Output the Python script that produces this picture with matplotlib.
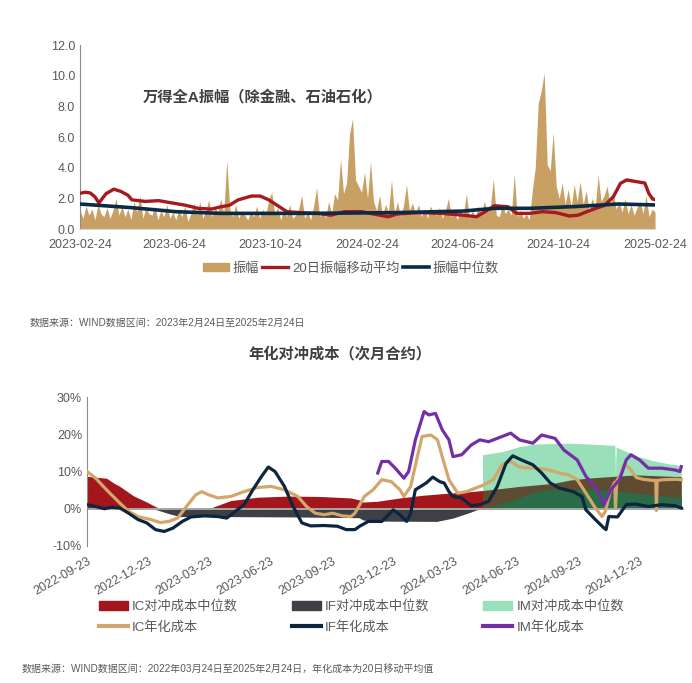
import pandas as pd
import matplotlib
matplotlib.use('Agg')
import matplotlib.pyplot as plt
from matplotlib.patches import Patch
from matplotlib.lines import Line2D
from matplotlib.ticker import FuncFormatter

plt.rcParams['font.family'] = ['Liberation Sans', 'Noto Sans CJK SC']

# ---------------- top chart data ----------------
amp_start = '2023-02-24'
amp_end = '2025-02-24'
amplitude = [
    1.2, 0.7, 1.5, 0.9, 1.3, 0.6, 1.6, 1.0,
    0.8, 1.4, 0.7, 1.2, 2.0, 0.9, 1.5, 0.8,
    1.3, 0.6, 1.8, 1.1, 2.2, 0.7, 1.4, 1.0,
    0.9, 1.5, 0.6, 1.2, 0.8, 1.6, 0.7, 1.1,
    0.6, 1.3, 0.8, 1.5, 0.5, 1.0, 1.7, 0.9,
    1.8, 0.7, 1.2, 1.9, 0.8, 1.4, 1.1, 2.0,
    1.0, 4.5, 1.3, 0.8, 1.6, 0.7, 1.2, 0.9,
    0.6, 1.1, 0.8, 1.5, 0.7, 1.3, 0.9, 1.9,
    2.4, 1.0, 1.4, 0.6, 1.2, 0.8, 1.6, 0.7,
    0.9, 1.3, 2.2, 0.7, 1.1, 0.6, 1.5, 2.7,
    0.8, 1.2, 0.7, 1.8, 1.0, 2.3, 1.9, 4.6,
    2.3, 3.0, 6.2, 7.2, 3.2, 2.8, 2.4, 3.7,
    2.0, 4.4, 1.8, 1.2, 2.2, 0.9, 1.6, 1.1,
    3.2, 1.0, 1.8, 0.8, 1.5, 2.9, 1.2, 1.7,
    1.0, 1.6, 0.8, 1.3, 0.7, 1.5, 1.1, 0.9,
    1.4, 0.7, 1.2, 2.0, 0.8, 1.1, 0.6, 1.3,
    0.9, 2.3, 0.7, 1.2, 0.8, 1.5, 1.0, 1.8,
    1.1, 1.4, 3.3, 0.9, 0.8, 1.6, 1.0, 1.3,
    0.9, 3.6, 0.8, 1.2, 0.7, 1.0, 0.6, 2.5,
    4.0, 8.2, 9.0, 10.2, 4.2, 3.8, 6.3, 2.8,
    2.0, 3.0, 1.6, 2.6, 1.4, 2.9, 1.8, 3.1,
    1.6, 2.5, 1.2, 2.0, 1.4, 3.5, 1.8, 2.2,
    2.8, 1.5, 2.4, 1.3, 1.8, 1.1, 2.0, 1.0,
    1.6, 0.9, 1.4, 1.8, 1.0, 2.2, 0.8, 1.3,
    1.1,
]

# 20日振幅移动平均 (days after 2023-02-24)
ma_days = [0, 7, 13, 19, 24, 33, 43, 52, 61, 66, 83, 100, 117, 134, 150, 167,
           179, 190, 201, 218, 229, 240, 252, 263, 280, 302, 319, 336, 358, 381,
           392, 403, 431, 459, 487, 504, 515, 527, 544, 555, 572, 588, 605, 622,
           633, 650, 667, 678, 687, 695, 706, 718, 723, 728, 730]
ma_vals = [2.33, 2.4, 2.35, 2.1, 1.7, 2.3, 2.6, 2.45, 2.2, 1.9, 1.8, 1.85, 1.7,
           1.55, 1.35, 1.3, 1.45, 1.55, 1.9, 2.15, 2.15, 1.9, 1.5, 1.13, 1.07,
           1.02, 0.9, 1.13, 1.13, 0.9, 0.8, 0.98, 1.07, 1.02, 0.9, 0.8, 1.13,
           1.52, 1.45, 1.02, 1.02, 1.13, 1.07, 0.85, 0.9, 1.24, 1.55, 2.1, 2.98,
           3.2, 3.1, 3.0, 2.33, 1.95, 1.93]

# 振幅中位数
med_days = [0, 66, 122, 179, 291, 403, 487, 527, 572, 628, 684, 730]
med_vals = [1.63, 1.39, 1.13, 1.02, 1.02, 1.07, 1.17, 1.35, 1.35, 1.46, 1.63, 1.57]

top_ticks = ['2023-02-24', '2023-06-24', '2023-10-24', '2024-02-24',
             '2024-06-24', '2024-10-24', '2025-02-24']

# ---------------- bottom chart data (days after 2022-09-23, %) ----------------
cost_start = '2022-09-23'

ic_med_days = [0, 29, 39, 49, 69, 89, 104, 109, 181, 214, 254, 300, 347, 393, 405,
               411, 432, 466, 499, 532, 565, 589, 620, 644, 669, 694, 719, 744,
               768, 793, 818, 885]
ic_med = [8.7, 8.2, 7.0, 6.0, 3.5, 1.8, 0.4, 0.0, 0.0, 2.2, 3.1, 3.4, 3.3, 2.9,
          2.4, 1.8, 2.0, 2.9, 3.6, 4.1, 4.5, 4.9, 5.5, 6.0, 6.4, 6.8, 7.7, 8.2,
          8.5, 8.8, 9.1, 8.6]

if_med_days = [0, 95, 104, 120, 138, 200, 307, 405, 411, 421, 521, 545, 570, 580,
               589, 619, 644, 670, 704, 749, 786, 823, 885]
if_med = [0.0, 0.0, -0.3, -1.2, -2.1, -2.1, -2.2, -2.4, -3.0, -3.3, -3.4, -2.5,
          -1.0, -0.3, 0.0, 1.5, 3.0, 4.8, 5.3, 5.2, 4.8, 4.0, 3.0]

im_med_days = [589, 620, 644, 669, 719, 768, 786, 787, 788, 818, 843, 868, 885]
im_med = [14.5, 15.4, 16.7, 17.4, 17.6, 17.2, 17.0, 9.0, 16.6, 14.2, 12.9, 12.0, 11.6]

ic_cost_days = [0, 13, 29, 49, 62, 76, 95, 109, 122, 135, 148, 162, 171, 181, 195,
                214, 234, 254, 274, 294, 314, 327, 340, 353, 366, 380, 393, 399,
                413, 426, 439, 453, 466, 472, 482, 492, 499, 512, 522, 529, 539,
                552, 565, 578, 591, 605, 618, 631, 644, 664, 684, 704, 717, 730,
                743, 757, 767, 772, 779, 786, 787, 789, 796, 800, 808, 818, 828,
                843, 847, 848, 849, 858, 877, 885]
ic_cost = [10.0, 8.2, 5.1, 1.5, -0.7, -2.1, -2.9, -3.7, -3.4, -2.5, 0.6, 3.75,
           4.6, 3.75, 2.9, 3.3, 4.6, 5.7, 6.0, 5.1, 3.3, 0.6, -1.2, -1.6, -1.2,
           -1.9, -2.1, -1.2, 3.3, 5.1, 7.8, 7.3, 5.1, 3.3, 6.0, 14.0, 19.4, 19.8,
           18.5, 14.0, 7.8, 4.2, 4.6, 5.5, 6.4, 7.8, 11.8, 12.7, 11.2, 10.9,
           10.6, 9.6, 9.1, 7.8, 4.2, 0.2, -2.1, -0.7, 4.6, 7.1, 0.3, 7.5, 9.6,
           11.8, 10.9, 8.4, 7.9, 7.6, 7.6, -0.5, 7.6, 7.8, 7.9, 7.8]

if_cost_days = [0, 13, 26, 36, 49, 62, 76, 89, 102, 115, 128, 142, 155, 175, 195,
                208, 221, 234, 247, 260, 270, 280, 294, 307, 320, 333, 353, 373,
                386, 399, 406, 419, 439, 449, 456, 466, 476, 482, 489, 505, 515,
                525, 532, 539, 545, 558, 572, 585, 598, 611, 624, 634, 647, 664,
                677, 690, 704, 724, 737, 743, 757, 770, 773, 777, 790, 796, 803,
                816, 836, 856, 876, 885]
if_cost = [1.1, 0.6, 0.0, 0.4, 0.2, -1.2, -2.9, -3.8, -5.6, -6.1, -5.2, -3.4,
           -2.2, -1.9, -2.1, -2.5, -0.7, 1.1, 5.1, 8.7, 11.2, 10.0, 6.0, 0.6,
           -3.8, -4.6, -4.5, -4.7, -5.6, -5.6, -4.7, -3.4, -3.4, -1.6, -0.3,
           -1.6, -3.4, -1.2, 5.1, 6.9, 8.5, 7.3, 6.9, 4.6, 3.3, 2.9, 0.8, 1.1,
           2.0, 6.0, 12.2, 14.2, 13.1, 11.8, 9.6, 6.9, 5.5, 4.6, 3.3, -0.3, -2.9,
           -5.2, -5.6, -2.1, -2.2, -0.7, 1.1, 1.3, 0.6, 1.1, 0.8, 0.2]

im_cost_days = [433, 439, 449, 459, 472, 479, 489, 502, 509, 519, 529, 539, 545,
                558, 572, 585, 598, 611, 631, 644, 664, 677, 697, 710, 730, 743,
                760, 770, 780, 793, 803, 810, 823, 836, 856, 876, 883, 885]
im_cost = [9.6, 12.7, 12.7, 10.9, 8.2, 10.0, 18.5, 26.1, 25.2, 25.6, 21.2, 18.5,
           14.0, 14.5, 17.1, 18.5, 18.0, 18.9, 20.3, 18.5, 17.6, 19.8, 18.9, 15.8,
           13.1, 8.7, 5.1, 1.1, 5.1, 7.8, 13.1, 14.5, 13.1, 10.9, 10.9, 10.4,
           10.0, 11.3]

bottom_ticks = ['2022-09-23', '2022-12-23', '2023-03-23', '2023-06-23', '2023-09-23',
                '2023-12-23', '2024-03-23', '2024-06-23', '2024-09-23', '2024-12-23']
im_start_day = 589


def to_dates(start, days):
    return pd.Timestamp(start) + pd.to_timedelta(days, unit='D')


grey_txt = '#595959'
fig = plt.figure(figsize=(6.92, 6.83), dpi=100)

# ================= top chart =================
ax1 = fig.add_axes([0.1156, 0.6647, 0.831, 0.2694])
amp_dates = pd.date_range(amp_start, amp_end, periods=len(amplitude))
ax1.fill_between(amp_dates, 0, amplitude, color='#C9A064', lw=0, zorder=1)
ax1.plot(to_dates(amp_start, ma_days), ma_vals, color='#A6191E', lw=2.4, zorder=3)
ax1.plot(to_dates(amp_start, med_days), med_vals, color='#0B2A45', lw=2.6, zorder=4)
ax1.set_xlim(pd.Timestamp(amp_start), pd.Timestamp(amp_end))
ax1.set_ylim(0, 12)
ax1.set_yticks(range(0, 13, 2))
ax1.yaxis.set_major_formatter(FuncFormatter(lambda v, p: '%.1f' % v))
ax1.set_xticks(pd.to_datetime(top_ticks))
ax1.set_xticklabels(top_ticks)
for s in ['top', 'right']:
    ax1.spines[s].set_visible(False)
ax1.spines['left'].set_color('#8C8C8C')
ax1.spines['bottom'].set_color('#D9D9D9')
ax1.tick_params(length=0, labelsize=9, labelcolor=grey_txt)
ax1.tick_params(axis='x', pad=7)

fig.text(0.2067, 0.858, '万得全A振幅（除金融、石油石化）', fontsize=11,
         fontweight='bold', color='#404040', va='center')

top_handles = [Patch(color='#C9A064'),
               Line2D([], [], color='#A6191E', lw=2.4),
               Line2D([], [], color='#0B2A45', lw=2.6)]
fig.legend(top_handles, ['振幅', '20日振幅移动平均', '振幅中位数'], loc='center',
           bbox_to_anchor=(0.507, 0.6076), ncol=3, frameon=False, fontsize=9.5,
           labelcolor=grey_txt, handlelength=2.0, handleheight=0.6,
           columnspacing=0.2, handletextpad=0.3)

fig.text(0.0434, 0.527, '数据来源：WIND数据区间：2023年2月24日至2025年2月24日',
         fontsize=7.2, color=grey_txt, va='center')
fig.text(0.491, 0.4817, '年化对冲成本（次月合约）', fontsize=11,
         fontweight='bold', color='#404040', ha='center', va='center')

# ================= bottom chart =================
ax2 = fig.add_axes([0.1257, 0.2006, 0.8627, 0.2181])
start2 = pd.Timestamp(cost_start)

d_im = to_dates(cost_start, im_med_days)
ax2.fill_between(d_im, 0, im_med, color='#98DFBA', lw=0, zorder=1)

ic_d = pd.Series(ic_med, index=ic_med_days)
pre, post = ic_d[ic_d.index <= im_start_day], ic_d[ic_d.index >= im_start_day]
ax2.fill_between(to_dates(cost_start, pre.index), 0, pre.values, color='#A3161C', lw=0, zorder=1.2)
ax2.fill_between(to_dates(cost_start, post.index), 0, post.values, color='#5E4B30', lw=0, zorder=1.2)

if_d = pd.Series(if_med, index=if_med_days)
pre, post = if_d[if_d.index <= im_start_day], if_d[if_d.index >= im_start_day]
ax2.fill_between(to_dates(cost_start, pre.index), 0, pre.values, color='#3E4046', lw=0, zorder=1.4)
ax2.fill_between(to_dates(cost_start, post.index), 0, post.values, color='#2A6B48', lw=0, zorder=1.4)

ax2.axhline(0, color='#A6A6A6', lw=1.4, zorder=2)

ax2.plot(to_dates(cost_start, ic_cost_days), ic_cost, color='#D3A66B', lw=2.3, zorder=3)
ax2.plot(to_dates(cost_start, if_cost_days), if_cost, color='#0D263F', lw=2.3, zorder=4)
ax2.plot(to_dates(cost_start, im_cost_days), im_cost, color='#7330A6', lw=2.3, zorder=5)

ax2.set_xlim(start2, start2 + pd.Timedelta(days=889))
ax2.set_ylim(-10, 30)
ax2.set_yticks([-10, 0, 10, 20, 30])
ax2.yaxis.set_major_formatter(FuncFormatter(lambda v, p: '%d%%' % v))
ax2.set_xticks(pd.to_datetime(bottom_ticks))
ax2.set_xticklabels(bottom_ticks, rotation=30, ha='right', rotation_mode='anchor')
for s in ['top', 'right', 'bottom']:
    ax2.spines[s].set_visible(False)
ax2.spines['left'].set_color('#8C8C8C')
ax2.tick_params(length=0, labelsize=9, labelcolor=grey_txt)
ax2.tick_params(axis='x', pad=7)

bottom_handles = [Patch(color='#A3161C'), Line2D([], [], color='#D3A66B', lw=3),
                  Patch(color='#3E4046'), Line2D([], [], color='#0D263F', lw=3),
                  Patch(color='#98DFBA'), Line2D([], [], color='#7330A6', lw=3)]
bottom_labels = ['IC对冲成本中位数', 'IC年化成本', 'IF对冲成本中位数', 'IF年化成本',
                 'IM对冲成本中位数', 'IM年化成本']
fig.legend(bottom_handles, bottom_labels, loc='center', bbox_to_anchor=(0.522, 0.0966),
           ncol=3, frameon=False, fontsize=9.5, labelcolor=grey_txt,
           handlelength=2.2, handleheight=0.7, columnspacing=4.1,
           handletextpad=0.3, labelspacing=0.6)

fig.text(0.0318, 0.0205, '数据来源：WIND数据区间：2022年03月24日至2025年2月24日，年化成本为20日移动平均值',
         fontsize=7.2, color=grey_txt, va='center')

fig.savefig('out.png', dpi=100)
